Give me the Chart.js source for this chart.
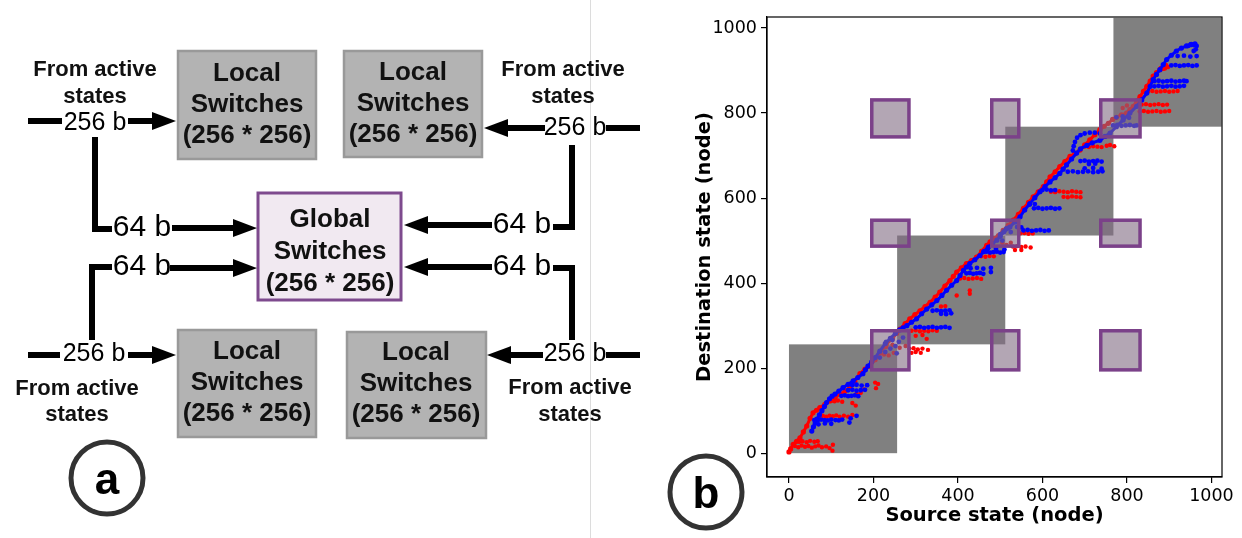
<!DOCTYPE html>
<html>
<head>
<title>Switch blocks and state transitions</title>
<script src="https://cdn.jsdelivr.net/npm/chart.js@4"></script>
<style type="text/css">
    body { margin: 0; width: 1242px; height: 538px; overflow: hidden; background: #fff; }
    #chart-box { position: absolute; left: 660px; top: 0; width: 582px; height: 538px; }
    #diagram { position: absolute; left: 0; top: 0; }
    #diagram text { font-family: "Liberation Sans", Arial, sans-serif; }
</style>
</head>
<body>
<div id="chart-box"><canvas id="graphCanvas" width="582" height="538"></canvas></div>

<svg id="diagram" width="1242" height="538">
    <line x1="590.5" y1="0" x2="590.5" y2="538" stroke="#dcdcdc" stroke-width="1"/>

    <!-- boxes -->
    <g stroke="#999" stroke-width="2.5" fill="#b3b3b3">
        <rect x="178" y="51" width="138" height="108"/>
        <rect x="344" y="51" width="138" height="106"/>
        <rect x="178" y="330" width="138" height="107"/>
        <rect x="347" y="332" width="139" height="106"/>
    </g>
    <rect x="258" y="193" width="143" height="107" fill="#f1e9f1" stroke="#7e4a8e" stroke-width="3"/>

    <g font-size="26" font-weight="bold" text-anchor="middle" fill="#111">
        <text x="247" y="81">Local</text>
        <text x="247" y="112">Switches</text>
        <text x="247" y="143">(256 * 256)</text>
        <text x="413" y="80">Local</text>
        <text x="413" y="111">Switches</text>
        <text x="413" y="142">(256 * 256)</text>
        <text x="330" y="227">Global</text>
        <text x="330" y="259">Switches</text>
        <text x="330" y="291">(256 * 256)</text>
        <text x="247" y="359">Local</text>
        <text x="247" y="390">Switches</text>
        <text x="247" y="421">(256 * 256)</text>
        <text x="416" y="360">Local</text>
        <text x="416" y="391">Switches</text>
        <text x="416" y="422">(256 * 256)</text>
    </g>

    <g font-size="22" font-weight="bold" text-anchor="middle" fill="#111">
        <text x="95" y="76">From active</text>
        <text x="95" y="103">states</text>
        <text x="563" y="76">From active</text>
        <text x="563" y="103">states</text>
        <text x="77" y="395">From active</text>
        <text x="77" y="421">states</text>
        <text x="570" y="394">From active</text>
        <text x="570" y="421">states</text>
    </g>

    <!-- wires -->
    <g stroke="#000" stroke-width="6" fill="none">
        <polyline points="28,121 62,121"/>
        <polyline points="128,121 154,121"/>
        <polyline points="95,137 95,229 112,229"/>
        <polyline points="172,228 236,228"/>
        <polyline points="92,340 92,267 112,267"/>
        <polyline points="170,268 236,268"/>
        <polyline points="28,355 60,355"/>
        <polyline points="128,355 154,355"/>
        <polyline points="606,128 640,128"/>
        <polyline points="506,128 545,128"/>
        <polyline points="572,145 572,227 553,227"/>
        <polyline points="426,225 492,225"/>
        <polyline points="553,268 572,268 572,340"/>
        <polyline points="426,267 492,267"/>
        <polyline points="508,355 543,355"/>
        <polyline points="606,355 640,355"/>
    </g>
    <g fill="#000">
        <polygon points="176,121 152,112 152,130"/>
        <polygon points="257,228 233,219 233,237"/>
        <polygon points="257,268 233,259 233,277"/>
        <polygon points="176,355 152,346 152,364"/>
        <polygon points="484,128 508,119 508,137"/>
        <polygon points="404,225 428,216 428,234"/>
        <polygon points="404,267 428,258 428,276"/>
        <polygon points="487,355 511,346 511,364"/>
    </g>

    <g font-size="25" text-anchor="middle" fill="#000">
        <text x="95" y="130">256 b</text>
        <text x="94" y="361">256 b</text>
        <text x="575" y="135">256 b</text>
        <text x="575" y="361">256 b</text>
    </g>
    <g font-size="30" text-anchor="middle" fill="#000">
        <text x="142" y="236">64 b</text>
        <text x="142" y="275">64 b</text>
        <text x="522" y="233">64 b</text>
        <text x="522" y="275">64 b</text>
    </g>

    <!-- panel marks -->
    <circle cx="107" cy="478" r="36" fill="none" stroke="#333" stroke-width="5"/>
    <text x="107" y="494" font-size="44" font-weight="bold" text-anchor="middle" fill="#000">a</text>
    <circle cx="706" cy="492" r="36" fill="none" stroke="#333" stroke-width="5"/>
    <text x="706" y="508" font-size="44" font-weight="bold" text-anchor="middle" fill="#000">b</text>
</svg>

<script>
    // axis ticks
    var xTicks = [0, 200, 400, 600, 800, 1000];
    var yTicks = [0, 200, 400, 600, 800, 1000];

    // gray local blocks and purple global windows (data units)
    var localBlocks = [[0, 256], [256, 512], [512, 768], [768, 1024]];
    var globalCols = [[196, 284], [480, 544], [738, 831]];
    var globalRows = [[196, 288], [487, 548], [744, 831]];

    // red points along the diagonal
    var redLine = [
        [0,3],[4,10],[10,21],[18,28],[26,36],[34,50],[42,64],[50,82],[57,95],[65,101],[73,107],[85,115],
        [97,123],[109,131],[121,139],[133,146],[144,154],[156,170],[168,187],[180,198],[192,205],[204,220],
        [215,235],[230,255],[245,270],[255,282],[263,292],[275,305],[286,316],[298,326],[310,335],[322,345],
        [334,355],[346,367],[357,379],[369,393],[381,406],[389,416],[397,426],[408,436],[420,446],[432,453],
        [444,461],[456,475],[468,489],[476,497],[484,505],[496,512],[507,524],[519,536],[531,548],[543,562],
        [555,576],[567,590],[578,603],[590,615],[602,627],[610,638],[618,650],[630,662],[641,674],[653,686],
        [665,698],[677,705],[689,713],[700,725],[712,737],[724,749],[736,761],[746,769],[756,776],[766,785],
        [775,790],[787,796],[799,800],[807,808],[815,816],[823,828],[831,839],[839,851],[847,863],[855,875],
        [862,887],[870,895],[878,902],[885,905],[892,912]
    ];

    // red points off the diagonal
    var redDots = [
        [14,17],[22,14],[30,18],[38,15],[46,17],[54,13],[62,16],[70,18],[78,14],[88,16],[96,12],[103,6],[104,20],
        [24,27],[32,28],[42,26],[50,29],[60,27],[68,28],
        [72,87],[80,88],[88,86],[96,88],[104,87],[112,89],[120,86],[130,88],[140,86],[150,90],
        [100,123],[108,122],[116,124],[126,121],[150,118],[158,112],
        [204,166],[211,163],[206,153],[160,140],[170,142],[178,150],
        [225,232],[236,230],[248,236],[230,250],[245,255],[262,248],
        [276,252],[285,246],[295,247],[305,244],[316,246],[329,243],[290,236],[300,238],[312,236],
        [290,288],[300,289],[310,287],[320,288],[330,287],[340,289],[350,288],
        [326,269],[316,278],[300,276],
        [360,345],[370,346],[397,371],[428,375],[428,383],
        [405,411],[415,412],[425,410],[435,411],[445,412],[455,410],
        [455,463],[465,462],[475,464],[485,463],
        [505,495],[515,490],[525,495],[530,486],[540,487],[550,485],[560,486],[572,484],[535,478],[550,478],
        [547,517],[557,518],[567,516],[577,517],
        [620,615],[630,614],[640,616],[650,615],[660,614],[670,616],[680,615],[690,614],
        [650,603],[660,602],[670,604],[680,603],[690,602],
        [700,721],[710,720],[720,722],[730,721],[740,720],[752,723],[760,725],[770,722],
        [790,812],[800,818],[812,808],[822,822],
        [830,804],[840,805],[850,803],[860,804],[870,805],[880,803],[890,804],[900,805],
        [835,820],[845,821],[855,819],[865,820],[875,821],[885,819],[895,820],
        [850,851],[860,852],[870,850],[880,851],[890,852],[900,850],[910,851],[920,852],
        [880,906],[890,905],[897,908]
    ];

    // blue points along the diagonal
    var blueLine = [
        [54,52],[58,62],[62,71],[66,80],[72,90],[78,100],[84,110],[89,119],[96,128],[102,134],[109,139],
        [118,146],[128,154],[140,162],[152,170],[163,178],[175,187],[181,196],[187,205],[196,215],[204,225],
        [215,240],[228,258],[240,270],[252,282],[262,290],[270,295],[279,300],[290,308],[302,316],[314,328],
        [326,339],[338,349],[350,359],[362,371],[373,383],[385,395],[397,406],[405,418],[413,430],[420,438],
        [428,446],[440,455],[452,465],[462,475],[472,485],[482,493],[492,501],[500,510],[508,520],[515,528],
        [523,532],[535,544],[547,556],[558,572],[570,587],[582,601],[594,615],[606,627],[618,638],[630,648],
        [641,658],[649,668],[657,678],[669,692],[681,706],[690,716],[705,724],[718,730],[736,736],[748,745],
        [760,753],[775,768],[791,784],[807,800],[823,816],[835,831],[847,847],[855,863],[862,879],[870,891],
        [878,902],[886,914],[894,926],[905,936],[917,946],[929,953],[941,958],[951,961],[961,963]
    ];

    // blue points off the diagonal
    var blueDots = [
        [60,78],[68,77],[76,79],[84,78],[92,77],[100,79],[110,78],[118,77],[126,79],
        [70,68],[85,70],[100,69],[143,72],[146,82],[160,88],
        [124,135],[132,136],[140,134],[148,135],[156,136],[164,134],
        [140,148],[150,149],[160,147],[170,148],[180,149],
        [150,160],[160,161],[172,159],[185,160],
        [215,225],[228,238],[240,246],[252,252],[230,262],[245,266],[260,262],[270,272],[255,235],
        [300,296],[310,297],[320,295],[330,296],[340,297],[350,295],[360,296],[370,297],[380,295],
        [340,335],[350,336],[360,334],[370,335],[380,336],[360,328],[372,327],[384,329],
        [420,423],[428,424],[436,422],[444,423],[452,424],[460,422],[478,426],[478,436],
        [430,435],[445,436],[460,434],
        [460,473],[468,474],[476,472],[484,473],[492,474],[500,472],[508,473],[470,480],[490,481],[510,479],
        [500,515],[510,522],[520,530],[525,520],[505,500],
        [540,532],[550,531],
        [555,524],[565,525],[575,523],[585,524],[595,525],[605,523],[615,524],
        [570,585],[582,586],
        [580,576],[590,577],[600,575],[610,576],[620,577],[630,575],[640,576],
        [600,619],[610,620],[620,618],[630,619],
        [660,662],[672,663],[684,661],[696,662],[708,663],[720,661],[732,662],[742,663],
        [700,670],[720,671],[740,669],
        [690,687],[700,688],[710,686],[720,687],[730,688],[740,686],[710,680],[725,681],
        [672,712],[674,722],[677,732],[682,742],[690,748],[700,752],[712,754],[724,754],[736,752],
        [767,771],[777,772],[787,770],[797,771],[807,772],[817,770],[823,771],
        [775,790],[790,792],[805,789],
        [865,863],[875,864],[885,862],[895,863],[905,864],[915,862],[925,863],[935,864],
        [865,875],[875,876],[885,874],[895,875],[905,876],[915,874],[925,875],[935,876],[941,875],
        [905,912],[915,913],[925,911],[935,912],[945,913],[955,911],[965,912],
        [920,934],[935,935],[950,933],[965,934],
        [945,958],[952,962],[958,960],[965,958],[963,950],[958,946]
    ];

    function pts(arr) {
        return arr.map(function (p) { return { x: p[0], y: p[1] }; });
    }

    // gray blocks under the points, purple windows over them, frame last
    var blockPlugin = {
        id: 'blocks',
        beforeDatasetsDraw: function (chart) {
            var c = chart.ctx, xs = chart.scales.x, ys = chart.scales.y;
            c.save();
            c.fillStyle = '#808080';
            localBlocks.forEach(function (b) {
                var x0 = xs.getPixelForValue(b[0]), x1 = xs.getPixelForValue(b[1]);
                var y0 = ys.getPixelForValue(b[1]), y1 = ys.getPixelForValue(b[0]);
                c.fillRect(x0, y0, x1 - x0, y1 - y0);
            });
            c.restore();
        },
        afterDatasetsDraw: function (chart) {
            var c = chart.ctx, xs = chart.scales.x, ys = chart.scales.y;
            c.save();
            globalCols.forEach(function (col) {
                globalRows.forEach(function (row) {
                    var x0 = xs.getPixelForValue(col[0]), x1 = xs.getPixelForValue(col[1]);
                    var y0 = ys.getPixelForValue(row[1]), y1 = ys.getPixelForValue(row[0]);
                    c.fillStyle = 'rgba(128,106,130,0.6)';
                    c.fillRect(x0, y0, x1 - x0, y1 - y0);
                    c.strokeStyle = '#7b4189';
                    c.lineWidth = 3.5;
                    c.strokeRect(x0, y0, x1 - x0, y1 - y0);
                });
            });
            var a = chart.chartArea;
            c.strokeStyle = '#000';
            c.lineWidth = 1.2;
            c.strokeRect(a.left, a.top, a.right - a.left, a.bottom - a.top);
            c.restore();
        }
    };

    var tickFont = { family: 'DejaVu Sans', size: 17.5 };
    var titleFont = { family: 'DejaVu Sans', size: 19.5, weight: 'bold' };
    var plainLabel = function (v) { return String(v); };

    var graphTarget = document.getElementById('graphCanvas');
    var scatter = new Chart(graphTarget, {
        type: 'scatter',
        data: {
            datasets: [
                {
                    label: 'blue dots', data: pts(blueDots),
                    backgroundColor: '#0000ff', pointRadius: 2.4, pointBorderWidth: 0
                },
                {
                    label: 'blue line', data: pts(blueLine), showLine: true,
                    borderColor: '#0000ff', borderWidth: 3, backgroundColor: '#0000ff',
                    pointRadius: 2.6, pointBorderWidth: 0
                },
                {
                    label: 'red dots', data: pts(redDots),
                    backgroundColor: '#ff0000', pointRadius: 2.2, pointBorderWidth: 0
                },
                {
                    label: 'red line', data: pts(redLine), showLine: true,
                    borderColor: '#ff0000', borderWidth: 3, backgroundColor: '#ff0000',
                    pointRadius: 2.6, pointBorderWidth: 0
                }
            ]
        },
        options: {
            responsive: false,
            animation: false,
            layout: { padding: { top: 17, right: 20, left: 0, bottom: 0 } },
            plugins: { legend: { display: false }, tooltip: { enabled: false } },
            scales: {
                x: {
                    type: 'linear', min: -52, max: 1025,
                    afterBuildTicks: function (s) { s.ticks = xTicks.map(function (v) { return { value: v }; }); },
                    afterFit: function (s) { s.height = 61; },
                    ticks: { color: '#000', font: tickFont, padding: 3, maxRotation: 0, autoSkip: false, callback: plainLabel },
                    grid: { drawOnChartArea: false, tickLength: 6, color: '#000', lineWidth: 1.2 },
                    border: { color: '#000', width: 1.2 },
                    title: { display: true, text: 'Source state (node)', color: '#000', font: titleFont, padding: { top: 0, bottom: 10 } }
                },
                y: {
                    type: 'linear', min: -56, max: 1026,
                    afterBuildTicks: function (s) { s.ticks = yTicks.map(function (v) { return { value: v }; }); },
                    afterFit: function (s) { s.width = 107; },
                    ticks: { color: '#000', font: tickFont, padding: 4, autoSkip: false, callback: plainLabel },
                    grid: { drawOnChartArea: false, tickLength: 6, color: '#000', lineWidth: 1.2 },
                    border: { color: '#000', width: 1.2 },
                    title: { display: true, text: 'Destination state (node)', color: '#000', font: titleFont, padding: { top: 33, bottom: 0 } }
                }
            }
        },
        plugins: [blockPlugin]
    });
</script>
</body>
</html>
